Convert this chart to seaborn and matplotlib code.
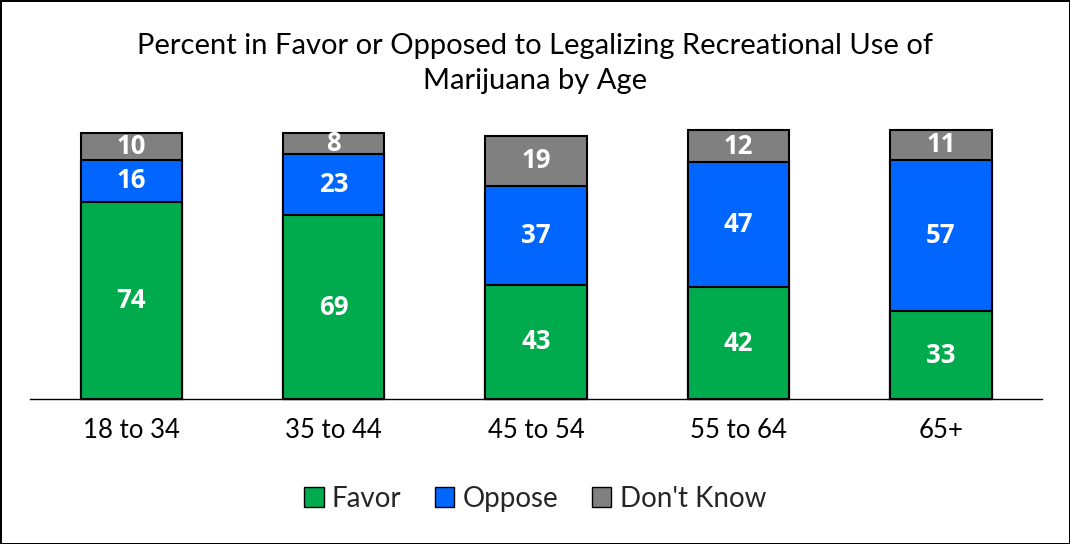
import pandas as pd
import matplotlib.pyplot as plt
import seaborn as sns
from matplotlib.patches import Patch

ages = ["18 to 34", "35 to 44", "45 to 54", "55 to 64", "65+"]
favor = [74, 69, 43, 42, 33]
oppose = [16, 23, 37, 47, 57]
dont_know = [10, 8, 19, 12, 11]

series = ["Favor", "Oppose", "Don't Know"]
colors = {"Favor": "#00AB4E", "Oppose": "#0066FF", "Don't Know": "#808080"}

sns.set_theme(style="white")
plt.rcParams['font.family'] = ['Lato', 'DejaVu Sans']

df = pd.DataFrame({"age": ages, "Favor": favor, "Oppose": oppose, "Don't Know": dont_know})
df["top2"] = df["Favor"] + df["Oppose"]
df["top3"] = df["top2"] + df["Don't Know"]

fig = plt.figure(figsize=(10.7, 5.44), dpi=100)
fig.patch.set_edgecolor("black")
fig.patch.set_linewidth(2)
ax = fig.add_axes([0.028, 0.2665, 0.946, 0.489])

# draw cumulative heights back to front
for col, name in [("top3", "Don't Know"), ("top2", "Oppose"), ("Favor", "Favor")]:
    sns.barplot(data=df, x="age", y=col, color=colors[name], width=0.5,
                edgecolor="black", linewidth=1.5, saturation=1, ax=ax)
for p in ax.patches:
    p.set_clip_on(False)

for i, row in df.iterrows():
    bottom = 0
    for name in series:
        v = row[name]
        ax.text(i, bottom + v / 2, f"{v}", ha="center", va="center",
                color="white", fontsize=18.5, fontweight="bold",
                family=["Open Sans", "DejaVu Sans"])
        bottom += v

ax.set_ylim(0, 100)
ax.set_xlim(-0.5, 4.5)
ax.set_xlabel("")
ax.set_ylabel("")
ax.set_yticks([])
ax.tick_params(axis="x", length=0, labelsize=18.5, pad=14, colors="black")
for s in ["top", "left", "right"]:
    ax.spines[s].set_visible(False)
ax.spines["bottom"].set_color("black")
ax.spines["bottom"].set_linewidth(1)

fig.text(0.5, 0.883, "Percent in Favor or Opposed to Legalizing Recreational Use of\nMarijuana by Age",
         ha="center", va="center", fontsize=21, linespacing=1.45, color="black")

handles = [Patch(facecolor=colors[n], edgecolor="black", linewidth=1) for n in series]
fig.legend(handles, series, loc="center", bbox_to_anchor=(0.5, 0.083), ncol=3, frameon=False,
           fontsize=20, handlelength=0.7, handleheight=0.7, handletextpad=0.3, columnspacing=1.2)

fig.savefig("out.png", dpi=100)
